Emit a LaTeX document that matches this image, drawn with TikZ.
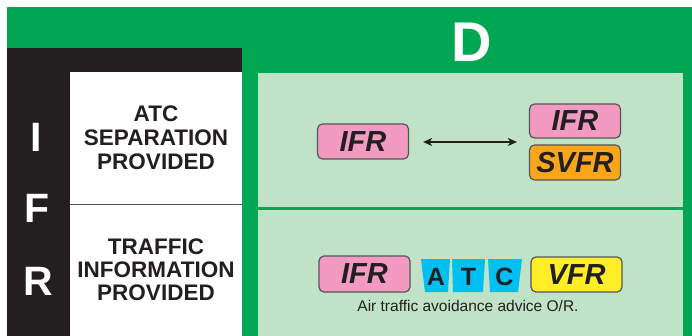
\documentclass[tikz,border=0pt]{standalone}
\usepackage{fontspec}
\setmainfont{Liberation Sans}
\usetikzlibrary{arrows.meta,calc}
\definecolor{cgreen}{RGB}{0,166,81}
\definecolor{cpanel}{RGB}{192,226,199}
\definecolor{cblack}{RGB}{35,31,32}
\definecolor{cpink}{RGB}{243,154,194}
\definecolor{corange}{RGB}{250,166,26}
\definecolor{ccyan}{RGB}{0,191,243}
\definecolor{cyellow}{RGB}{255,237,40}
\definecolor{cedge}{RGB}{85,85,85}
\definecolor{ctext}{RGB}{35,31,32}
\tikzset{
  tagbox/.style={draw=cedge, line width=1.2pt, rounded corners=5pt,
    minimum width=91pt, minimum height=35pt, inner sep=0pt, text=ctext,
    font=\fontsize{29}{29}\selectfont\bfseries\itshape},
  sidelabel/.style={align=center, text=ctext, inner sep=0pt},
  bigletter/.style={text=white, inner sep=0pt, font=\fontsize{41}{41}\selectfont\bfseries},
  atccell/.style={fill=ccyan},
  atcletter/.style={text=ctext, inner sep=0pt, font=\fontsize{25}{25}\selectfont\bfseries},
}
\begin{document}
\begin{tikzpicture}[x=1pt,y=-1pt]
\useasboundingbox (0,0) rectangle (692,336);
\fill[white] (0,0) rectangle (692,336);
% frame
\fill[cgreen] (7,7) rectangle (692,336);
\fill[cblack] (7,48) rectangle (242,336);
\fill[white] (70,72) rectangle (242,336);
\draw[cedge, line width=1.3pt] (70,204.5) -- (242,204.5);
\fill[cpanel] (258,73) rectangle (683,336);
\fill[cgreen] (258,207.5) rectangle (683,210);
% header
\node[text=white, inner sep=0pt, font=\fontsize{56}{56}\selectfont\bfseries] (hd) at (472,42) {D};
% left column
\node[bigletter] (li) at (36,137) {I};
\node[bigletter] (lf) at (37,208) {F};
\node[bigletter] (lr) at (38,281) {R};
\node[sidelabel, font=\fontsize{22.5}{24}\selectfont\bfseries] (sep) at (156,137.5) {ATC\\SEPARATION\\PROVIDED};
\node[sidelabel, font=\fontsize{22.5}{23}\selectfont\bfseries] (tin) at (156,270) {TRAFFIC\\INFORMATION\\PROVIDED};
% row 1
\node[tagbox, fill=cpink] (ifrA) at (363,141.5) {IFR};
\node[tagbox, fill=cpink, minimum height=34pt] (ifrB) at (575,121) {IFR};
\node[tagbox, fill=corange] (svfr) at (575,162.5) {SVFR};
\coordinate (grp) at ($(ifrB.south west)!0.5!(svfr.north west)$);
\draw[{Stealth[length=9pt,width=8pt,inset=2.5pt]}-{Stealth[length=9pt,width=8pt,inset=2.5pt]}, line width=1.3pt, ctext]
  ($(ifrA.east)+(14,0.5)$) -- ($(ifrA.east -| grp)+(-12,0.5)$);
% row 2
\node[tagbox, fill=cpink, minimum height=36pt] (ifrC) at (364.5,274) {IFR};
\node[tagbox, fill=cyellow, minimum height=35pt] (vfr) at (576.5,274.5) {VFR};
\fill[atccell] (421,259) -- (450,259) -- (448,292) -- (425,292) -- cycle;
\fill[atccell] (452,259) -- (485,259) -- (483,292) -- (453,292) -- cycle;
\fill[atccell] (488,259) -- (522,259) -- (518,292) -- (490,292) -- cycle;
\node[atcletter] (aa) at (436,276.5) {A};
\node[atcletter] (at) at (468.5,276.5) {T};
\node[atcletter] (ac) at (504.5,276.5) {C};
\node[text=ctext, inner sep=0pt, font=\fontsize{15.5}{16}\selectfont] (cap) at (468,306) {Air traffic avoidance advice O/R.};
\end{tikzpicture}
\end{document}
